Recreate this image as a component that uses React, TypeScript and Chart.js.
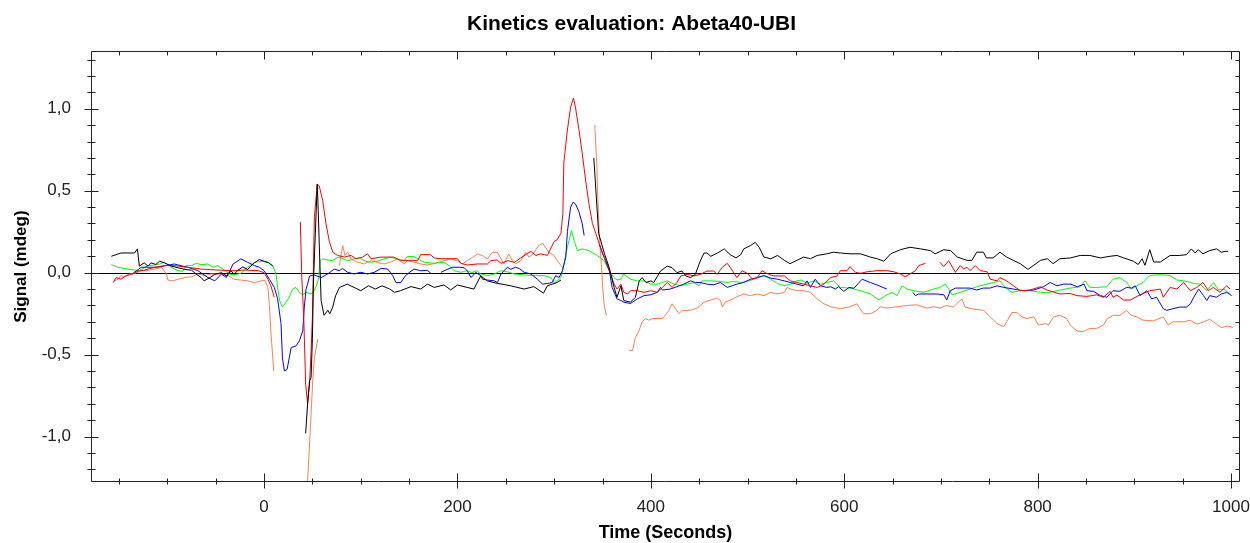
import { useEffect, useRef } from 'react';
import { Chart, registerables } from 'chart.js';

Chart.register(...registerables);

const chartTitle = 'Kinetics evaluation: Abeta40-UBI';
const xAxisTitle = 'Time (Seconds)';
const yAxisTitle = 'Signal (mdeg)';
const xTickValues = [0, 200, 400, 600, 800, 1000];
const yTickValues = [-1, -0.5, 0, 0.5, 1];

// [time (s), signal (mdeg)]; null marks a break in the trace
const blackReadings: [number, number | null][] = [
  [-158, 0.10], [-148, 0.12], [-134, 0.12], [-131, 0.145], [-129, 0.04], [-124, 0.06], [-120, 0.04], [-117, 0.06],
  [-112, 0.05], [-108, 0.07], [-103, 0.06], [-96, 0.04], [-89, 0.03], [-82, 0.02], [-75, 0.015], [-70, -0.01],
  [-65, -0.03], [-62, -0.05], [-56, -0.03], [-51, -0.01], [-44, 0.0], [-39, -0.02], [-34, 0.01], [-31, -0.01],
  [-27, 0.015], [-22, 0.035], [-17, 0.02], [-10, 0.06], [-5, 0.08], [0, 0.07], [5, 0.06], [9, 0.04], [25, null],
  [43, -0.98], [45, -0.80], [47, -0.66], [48.6, -0.64], [50, -0.40], [51, -0.07], [53, 0.24], [55, 0.54],
  [56, 0.38], [57.5, 0.09], [59, -0.17], [62, -0.26], [66, -0.23], [68, -0.25], [71, -0.21], [74, -0.14],
  [78, -0.09], [86, -0.07], [93, -0.09], [100, -0.11], [108, -0.08], [115, -0.1], [122, -0.08], [130, -0.1],
  [135, -0.12], [141, -0.11], [152, -0.085], [162, -0.1], [169, -0.07], [176, -0.09], [186, -0.075], [193, -0.105],
  [200, -0.075], [210, -0.09], [217, -0.1], [224, -0.02], [231, -0.05], [241, -0.065], [255, -0.08], [269, -0.1],
  [279, -0.085], [289, -0.125], [293, -0.08], [303, -0.06], [307, -0.045], [325, null],
  [341, 0.70], [346, 0.24], [352, 0.115], [357, 0.03], [362, -0.09], [365, -0.15], [369, -0.08], [372, -0.17],
  [379, -0.18], [384, -0.15], [388, -0.05], [391, -0.03], [395, -0.06], [400, -0.05], [403, -0.06], [410, 0.01],
  [417, 0.04], [422, 0.03], [427, 0.0], [432, 0.01], [436, -0.02], [441, -0.03], [446, -0.01], [451, 0.07],
  [455, 0.12], [458, 0.12], [462, 0.10], [469, 0.12], [476, 0.145], [482, 0.11], [488, 0.09], [493, 0.11],
  [496, 0.145], [503, 0.165], [508, 0.185], [512, 0.155], [517, 0.095], [524, 0.085], [531, 0.105], [538, 0.075],
  [544, 0.055], [551, 0.075], [558, 0.095], [565, 0.085], [572, 0.105], [582, 0.115], [589, 0.125], [596, 0.12],
  [606, 0.115], [617, 0.115], [627, 0.095], [634, 0.085], [641, 0.07], [648, 0.115], [658, 0.14], [668, 0.155],
  [679, 0.145], [689, 0.135], [694, 0.115], [703, 0.14], [710, 0.135], [717, 0.095], [727, 0.075], [732, 0.075],
  [737, 0.125], [744, 0.125], [747, 0.09], [754, 0.09], [761, 0.125], [768, 0.095], [775, 0.075], [782, 0.055],
  [790, 0.02], [796, 0.045], [803, 0.075], [810, 0.085], [816, 0.055], [823, 0.085], [834, 0.09], [844, 0.105],
  [854, 0.105], [865, 0.09], [875, 0.1], [882, 0.105], [889, 0.09], [899, 0.07], [904, 0.05], [908, 0.085],
  [911, 0.045], [916, 0.14], [920, 0.065], [927, 0.065], [937, 0.105], [947, 0.105], [954, 0.11], [959, 0.145],
  [963, 0.12], [966, 0.14], [971, 0.115], [978, 0.135], [985, 0.145], [990, 0.125], [994, 0.13], [997, 0.13],
];

const redReadings: [number, number | null][] = [
  [-156, -0.06], [-153, -0.03], [-148, -0.04], [-143, -0.02], [-137, -0.01], [-130, 0.01], [-124, 0.015], [-113, 0.033],
  [-103, 0.043], [-93, 0.043], [-79, 0.033], [-65, 0.022], [-48, 0.016], [-31, 0.012], [-20, 0.016], [-6, 0.012],
  [0, 0.0], [4, -0.04], [7, -0.08], [9, -0.12], [10.5, -0.15], [24, null],
  [37.5, 0.31], [39, -0.03], [41, -0.27], [43, -0.68], [45, -0.80], [47, -0.68], [48.6, -0.48], [50, -0.27],
  [52, 0.34], [55, 0.54], [57, 0.53], [60.6, 0.44], [64, 0.30], [67.5, 0.19], [71, 0.125], [76, 0.105],
  [83, 0.095], [90, 0.105], [95, 0.085], [102, 0.095], [107, 0.115], [110.5, 0.085], [121, 0.095], [134, 0.095],
  [141, 0.075], [149, 0.075], [159, 0.075], [162, 0.11], [172, 0.11], [176, 0.09], [183, 0.085], [200, 0.085],
  [203.5, 0.057], [210, 0.047], [221, 0.053], [231, 0.053], [234.5, 0.073], [241, 0.078], [245, 0.057], [252, 0.073],
  [259, 0.063], [265.5, 0.09], [272, 0.115], [276, 0.13], [281, 0.105], [286, 0.115], [293, 0.105], [300, 0.19],
  [303, 0.2], [307, 0.24], [309, 0.36], [310, 0.67], [313.7, 0.87], [317, 1.01], [320, 1.065], [322, 1.01],
  [325.7, 0.87], [329, 0.73], [332.6, 0.56], [336, 0.42], [339.6, 0.30], [343, 0.24], [346.4, 0.18], [350, 0.115],
  [355, 0.053], [358.5, -0.01], [362, -0.07], [365, -0.10], [369, -0.07], [372, -0.12], [376, -0.13], [379, -0.11],
  [383, -0.11], [386, -0.11], [393, -0.12], [400, -0.11], [406.6, -0.12], [412, -0.09], [417, -0.06], [422, -0.09],
  [427, -0.06], [431, -0.02], [437.7, -0.01], [444.5, -0.02], [451.4, -0.01], [458, 0.01], [465, 0.01], [468.5, -0.01],
  [474, 0.033], [479, 0.057], [482, 0.033], [489, -0.03], [494.5, 0.012], [500, -0.005], [505, -0.04], [510, -0.03],
  [515, 0.012], [520, -0.005], [527, -0.02], [538, -0.02], [544.5, -0.05], [551, -0.06], [558, -0.07], [565, -0.08],
  [572, -0.09], [579, -0.07], [586, -0.03], [592.6, -0.02], [596, 0.012], [603, 0.012], [606, 0.037], [611.6, 0.002],
  [617, -0.004], [624, 0.006], [634, 0.012], [644, 0.012], [651, 0.006], [658, -0.008], [663, -0.025], [668, -0.008],
  [673.6, 0.012], [677, 0.043], [684, 0.057], [692, null],
  [699, 0.063], [703, 0.037], [708, 0.073], [715, 0.002], [720, 0.043], [723.5, 0.022], [727, 0.033], [730, 0.012],
  [735.5, 0.043], [740.7, 0.012], [747.6, 0.006], [751, -0.04], [758, -0.05], [761, -0.03], [768, -0.05], [775, -0.08],
  [782, -0.11], [792, -0.106], [803, -0.086], [809.6, -0.106], [823, -0.13], [833.7, -0.127], [840.6, -0.14], [851, -0.145],
  [861, -0.135], [868, -0.15], [875, -0.114], [878, -0.15], [882, -0.137], [889, -0.167], [895.7, -0.167], [906, -0.135],
  [916, -0.11], [927, -0.1], [930, -0.15], [937, -0.09], [944, -0.1], [951, -0.06], [958, -0.11], [964.6, -0.09],
  [971, -0.06], [976.6, -0.11], [981.7, -0.09], [988.6, -0.12], [995.6, -0.08], [999, -0.1],
];

const blueReadings: [number, number | null][] = [
  [-137, -0.01], [-127, 0.033], [-110, 0.033], [-93, 0.053], [-79, 0.033], [-68.5, 0.012], [-58, -0.03], [-51, -0.05],
  [-44, -0.008], [-39, -0.03], [-32, 0.053], [-24, 0.084], [-17, 0.063], [-10, 0.043], [-5, 0.033], [0, 0.012],
  [5.5, -0.04], [10.6, -0.09], [14, -0.16], [17.5, -0.31], [19, -0.52], [21, -0.60], [23.8, -0.59], [26, -0.52],
  [28, -0.457], [33, -0.447], [36.5, -0.416], [40, -0.355], [41.6, -0.21], [43.4, -0.10], [45, -0.07], [47, -0.02],
  [52, -0.014], [59, -0.03], [65.8, -0.008], [72.6, 0.022], [77.8, 0.012], [81, 0.026], [86.5, 0.002], [93, -0.008],
  [100, 0.002], [107, -0.008], [114, 0.002], [121, 0.026], [127.8, 0.022], [133, -0.018], [136.4, -0.06], [141.5, -0.06],
  [146, -0.02], [150, 0.0], [155, 0.022], [162, 0.012], [169, 0.014], [172.5, -0.004], [177, null],
  [183, 0.002], [190, 0.022], [195, 0.033], [202, 0.033], [207, 0.03], [210, 0.012], [214, -0.03], [219, 0.002],
  [224, -0.018], [226, -0.04], [231, -0.045], [238, -0.05], [241.4, -0.06], [245, -0.008], [248, 0.012], [251.8, 0.033],
  [255, 0.02], [260, 0.033], [264, 0.025], [269, 0.002], [276, -0.008], [282.7, -0.04], [288, -0.07], [293, -0.066],
  [298, -0.06], [301.6, -0.018], [305, -0.03], [308.6, 0.012], [312, 0.094], [313.7, 0.25], [317, 0.40], [319.6, 0.43],
  [322, 0.42], [325.7, 0.37], [329, 0.30], [331, 0.227], [339, null],
  [347, 0.17], [353, 0.073], [357, 0.012], [360, -0.09], [365, -0.16], [369, -0.17], [372, -0.18], [379, -0.188],
  [386, -0.16], [393, -0.14], [400, -0.135], [406.6, -0.12], [410, -0.09], [412, -0.106], [420, -0.1], [427, -0.086],
  [434, -0.07], [441, -0.05], [446, -0.06], [451, -0.06], [458, -0.07], [465, -0.074], [472, -0.06], [479, -0.09],
  [484, -0.08], [489, -0.07], [496, -0.06], [503, -0.04], [510, -0.03], [517, -0.018], [524, -0.033], [531, -0.04],
  [538, -0.05], [544.5, -0.06], [551, -0.07], [558, -0.08], [561.6, -0.05], [565, -0.09], [570, -0.04], [575.4, -0.08],
  [582, -0.09], [586, -0.086], [591, -0.1], [594, -0.086], [599.5, -0.114], [605, -0.09], [610, -0.095], [618.5, -0.04],
  [627, -0.06], [636, -0.08], [644, -0.1], [658, null],
  [671, -0.12], [673.6, -0.14], [677, -0.13], [685.6, -0.13], [696, -0.13], [703, -0.135], [706, -0.167], [709.7, -0.11],
  [715, -0.094], [723.5, -0.094], [730, -0.094], [737, -0.106], [744, -0.094], [751, -0.094], [758, -0.08], [765, -0.09],
  [775, -0.1], [785, -0.11], [796, -0.106], [806, -0.086], [813, -0.06], [820, -0.08], [827, -0.07], [834, -0.07],
  [841, -0.086], [848, -0.07], [851, -0.11], [858, -0.114], [865, -0.14], [871.5, -0.15], [878, -0.11], [885, -0.114],
  [892, -0.09], [897, -0.094], [901, -0.08], [906, -0.14], [913, -0.11], [918, -0.16], [923, -0.15], [930, -0.22],
  [933.5, -0.23], [940, -0.22], [947, -0.21], [954, -0.21], [958, -0.19], [961.5, -0.15], [966.6, -0.1], [971.6, -0.14],
  [975, -0.17], [978, -0.14], [985, -0.15], [990, -0.13], [995.6, -0.12], [1000.7, -0.14],
];

const greenReadings: [number, number | null][] = [
  [-158, 0.049], [-151, 0.033], [-141, 0.022], [-134, 0.016], [-129, 0.012], [-120, 0.043], [-113, 0.047], [-108, 0.053],
  [-103, 0.063], [-96, 0.033], [-89, 0.012], [-84, 0.008], [-81, 0.043], [-75, 0.043], [-70, 0.057], [-65, 0.049],
  [-58, 0.053], [-53, 0.033], [-48, 0.043], [-41, 0.016], [-36, -0.008], [-31, -0.014], [-24, -0.004], [-17, 0.033],
  [-10, 0.063], [-3, 0.069], [4, 0.063], [9, 0.043], [12.4, -0.01], [14, -0.09], [16, -0.17], [19, -0.21],
  [22.7, -0.18], [26, -0.15], [29.6, -0.1], [33, -0.09], [36.5, -0.12], [40, -0.135], [43.4, -0.12], [48.6, -0.13],
  [52, -0.11], [54.8, -0.07], [56.5, -0.03], [58, 0.073], [60.6, 0.084], [65.8, 0.078], [71, 0.073], [76, 0.094],
  [79.5, 0.09], [86.5, 0.073], [93, 0.084], [98.5, 0.09], [105, 0.069], [110.5, 0.063], [117, 0.07], [124, 0.084],
  [131, 0.094], [138, 0.084], [145, 0.073], [148, 0.098], [155, 0.098], [159, 0.084], [165.6, 0.063], [176, 0.057],
  [186, 0.063], [191.5, 0.043], [196.6, 0.012], [203.5, 0.002], [210, 0.012], [215, 0.0], [220, 0.012], [224, -0.008],
  [231, -0.018], [238, -0.008], [245, 0.012], [251.8, 0.005], [258.6, -0.008], [269, -0.014], [279, -0.018], [289.6, -0.018],
  [296.5, -0.03], [300, -0.06], [303, -0.05], [307, -0.03], [310, 0.053], [313.7, 0.155], [318, 0.257], [320.6, 0.196],
  [324, 0.135], [329, 0.145], [336, 0.135], [344.7, 0.104], [351.6, 0.073], [357, 0.012], [362, -0.03], [365, -0.045],
  [369, -0.04], [372, -0.008], [379, -0.04], [386, -0.05], [393, -0.05], [400, -0.07], [406.6, -0.07], [412, -0.06],
  [417, -0.05], [424, -0.07], [431, -0.08], [437.7, -0.07], [444.5, -0.06], [449.7, -0.08], [453, -0.05], [461.8, -0.05],
  [472, -0.053], [479, -0.06], [485.8, -0.053], [492.8, -0.06], [499.7, -0.053], [506.5, -0.04], [511.7, -0.03], [517, -0.018],
  [524, -0.04], [531, -0.066], [538, -0.08], [544.5, -0.07], [551, -0.05], [556, -0.045], [561.6, -0.066], [568.5, -0.05],
  [575.4, -0.07], [582, -0.06], [589, -0.05], [596, -0.09], [606, -0.094], [617, -0.11], [627, -0.13], [636, -0.167],
  [642.6, -0.14], [649.5, -0.12], [654.6, -0.14], [660, -0.08], [665, -0.1], [672, -0.11], [682, -0.12], [692.5, -0.1],
  [699.4, -0.09], [704.5, -0.07], [708, -0.1], [711.5, -0.135], [720, -0.12], [730, -0.1], [737, -0.086], [747.6, -0.07],
  [754.5, -0.06], [761, -0.05], [766.5, -0.09], [773.4, -0.12], [782, -0.11], [792, -0.11], [803, -0.12], [813, -0.12],
  [823, -0.106], [834, -0.094], [844, -0.086], [849, -0.05], [854, -0.09], [861, -0.09], [871.5, -0.086], [878, -0.04],
  [885, -0.03], [892, -0.06], [897, -0.1], [902.6, -0.08], [909, -0.06], [916, -0.018], [926.6, -0.012], [937, -0.018],
  [944, -0.045], [954.5, -0.053], [961.5, -0.066], [968, -0.07], [975, -0.11], [982, -0.06], [987, -0.106], [992.6, -0.1],
  [999, -0.13],
];

const orangeReadings: [number, number | null][] = [
  [-155, -0.05], [-151, -0.04], [-148, -0.018], [-144, -0.025], [-139, -0.008], [-134, -0.005], [-127, 0.012], [-120, 0.015],
  [-113, 0.022], [-106, 0.033], [-101, -0.008], [-99.5, -0.045], [-94, -0.05], [-89, -0.04], [-82, -0.03], [-75, -0.025],
  [-68.5, -0.008], [-61.7, -0.018], [-55, -0.008], [-44, -0.008], [-37.5, -0.018], [-31, -0.04], [-24, -0.045], [-17, -0.05],
  [-10, -0.06], [-3, -0.05], [0.5, -0.045], [4, -0.09], [5.5, -0.2], [7.2, -0.375], [9, -0.52], [10, -0.60], [27, null],
  [44, -1.40], [45, -1.27], [46.8, -1.07], [48.6, -0.865], [50.3, -0.66], [52, -0.52], [55.5, -0.406], [66, null],
  [77.8, 0.043], [81.3, 0.165], [83.7, 0.104], [86.5, 0.124], [90, 0.084], [96.8, 0.063], [103.6, 0.053], [110.5, 0.073],
  [117, 0.063], [124, 0.053], [131, 0.065], [138, 0.084], [145, 0.053], [148, 0.073], [155, 0.065], [162, 0.053],
  [169, 0.047], [176, 0.055], [186, 0.073], [193, 0.084], [200, 0.073], [205, 0.053], [210, 0.073], [215.6, 0.094],
  [220.8, 0.114], [226, 0.104], [231, 0.084], [236, 0.124], [241.4, 0.124], [245, 0.084], [248, 0.053], [253, 0.114],
  [257, 0.073], [260, 0.053], [265.5, 0.073], [270.7, 0.124], [274, 0.094], [279, 0.12], [284, 0.165], [288, 0.18],
  [291, 0.155], [294.7, 0.124], [300, 0.104], [303.4, 0.073], [307, 0.043], [309, 0.03], [325, null],
  [342, 0.90], [344, 0.666], [345.5, 0.40], [347, 0.196], [349, 0.033], [350.5, -0.11], [352, -0.21], [354, -0.26], [365, null],
  [377.4, -0.473], [381, -0.477], [384, -0.396], [387.7, -0.355], [391, -0.30], [394.6, -0.28], [398, -0.29], [401.5, -0.28],
  [406.6, -0.28], [412, -0.28], [415, -0.26], [418.7, -0.23], [422, -0.19], [425.6, -0.22], [429, -0.25], [432.5, -0.23],
  [441, -0.23], [448, -0.216], [455, -0.18], [462, -0.167], [468.7, -0.155], [472, -0.17], [474, -0.21], [477, -0.18],
  [482.4, -0.167], [489, -0.147], [496, -0.13], [503, -0.14], [510, -0.13], [517, -0.14], [524, -0.12], [531, -0.13],
  [538, -0.12], [541, -0.09], [544.5, -0.1], [551, -0.11], [558, -0.11], [565, -0.12], [572, -0.16], [579, -0.19],
  [586, -0.208], [596, -0.22], [606, -0.208], [613, -0.19], [620, -0.25], [627, -0.25], [634, -0.23], [637, -0.208],
  [644, -0.216], [654.6, -0.208], [665, -0.2], [675, -0.196], [685.6, -0.216], [692.5, -0.208], [699, -0.216], [706, -0.2],
  [713, -0.21], [718, -0.18], [721.8, -0.16], [725, -0.21], [733.8, -0.222], [744, -0.23], [751, -0.27], [758, -0.31],
  [765, -0.33], [768, -0.30], [773.4, -0.243], [778.6, -0.243], [783.8, -0.27], [789, -0.28], [796, -0.27], [801, -0.32],
  [808, -0.31], [811, -0.32], [816.5, -0.27], [823, -0.26], [830, -0.28], [833.7, -0.32], [840.6, -0.355], [847.4, -0.36],
  [854, -0.34], [861, -0.34], [868, -0.32], [871.5, -0.284], [878.4, -0.26], [885, -0.26], [892, -0.23], [897, -0.26],
  [902.6, -0.27], [909, -0.29], [919.7, -0.294], [930, -0.27], [935, -0.32], [940, -0.30], [951, -0.30], [957.6, -0.29],
  [964.6, -0.314], [971.6, -0.30], [978, -0.284], [985, -0.314], [990, -0.335], [996.6, -0.325], [1002, -0.335],
];

const seriesColors = {
  black: '#000000',
  red: '#ff0000',
  blue: '#0000ff',
  green: '#00ff00',
  orange: '#ff7f50',
};

const toPoints = (rows: [number, number | null][]) => rows.map(([t, v]) => ({ x: t, y: v }));

const frameTicksPlugin = {
  id: 'frameTicks',
  beforeDatasetsDraw(chart: any) {
    const { ctx, chartArea: a, scales } = chart;
    const y0 = Math.round(scales.y.getPixelForValue(0)) + 0.5;
    ctx.save();
    ctx.strokeStyle = '#000';
    ctx.lineWidth = 1;
    ctx.beginPath();
    ctx.moveTo(a.left, y0);
    ctx.lineTo(a.right, y0);
    ctx.stroke();
    ctx.restore();
  },
  afterDraw(chart: any) {
    const { ctx, chartArea: a, scales } = chart;
    const L = Math.round(a.left) + 0.5;
    const R = Math.round(a.right) - 0.5;
    const T = Math.round(a.top) + 0.5;
    const B = Math.round(a.bottom) - 0.5;
    ctx.save();
    ctx.strokeStyle = '#222';
    ctx.lineWidth = 1;
    ctx.beginPath();
    ctx.rect(L, T, R - L, B - T);
    for (let i = -3; i <= 20; i++) {
      const px = Math.round(scales.x.getPixelForValue(i * 50)) + 0.5;
      const major = i % 4 === 0;
      ctx.moveTo(px, B - (major ? 8 : 3));
      ctx.lineTo(px, B + (major ? 7 : 3));
      ctx.moveTo(px, T);
      ctx.lineTo(px, T + (major ? 8 : 4));
    }
    for (let i = -12; i <= 13; i++) {
      const py = Math.round(scales.y.getPixelForValue(i / 10)) + 0.5;
      const major = i % 5 === 0;
      ctx.moveTo(L - (major ? 7 : 4), py);
      ctx.lineTo(L + (major ? 7 : 4), py);
      ctx.moveTo(R, py);
      ctx.lineTo(R - (major ? 7 : 4), py);
    }
    ctx.stroke();
    ctx.restore();
  },
};

export default function App() {
  const canvasRef = useRef<HTMLCanvasElement | null>(null);

  useEffect(() => {
    if (!canvasRef.current) return;
    Chart.defaults.font.family = '"Liberation Sans", Arial, sans-serif';
    const mk = (label: string, rows: [number, number | null][], color: string) => ({
      label,
      data: toPoints(rows),
      borderColor: color,
      backgroundColor: color,
      borderWidth: 1,
      pointRadius: 0,
      pointHoverRadius: 0,
      tension: 0,
      spanGaps: false,
      fill: false,
    });
    const chart = new Chart(canvasRef.current, {
      type: 'line',
      data: {
        datasets: [
          mk('Black', blackReadings, seriesColors.black),
          mk('Red', redReadings, seriesColors.red),
          mk('Blue', blueReadings, seriesColors.blue),
          mk('Green', greenReadings, seriesColors.green),
          mk('Orange', orangeReadings, seriesColors.orange),
        ],
      },
      options: {
        animation: false,
        responsive: true,
        maintainAspectRatio: false,
        devicePixelRatio: 1,
        events: [],
        layout: { padding: { left: 13, right: 0, top: 0, bottom: 0 } },
        plugins: {
          legend: { display: false },
          tooltip: { enabled: false },
          title: {
            display: true,
            text: chartTitle,
            color: '#000',
            font: { size: 21, weight: 'bold' },
            padding: { top: 12, bottom: 14 },
          },
        },
        scales: {
          x: {
            type: 'linear',
            position: 'bottom',
            min: -179,
            max: 1009.3,
            afterBuildTicks: (s: any) => {
              s.ticks = xTickValues.map((v) => ({ value: v }));
            },
            afterFit: (s: any) => {
              s.height = 61;
              s.paddingLeft = 0;
              s.paddingRight = 0;
            },
            grid: { display: false, drawTicks: false, tickLength: 0 },
            border: { display: false },
            ticks: {
              color: '#222',
              font: { size: 17 },
              padding: 15,
              maxRotation: 0,
              autoSkip: false,
              callback: (v: any) => String(v),
            },
            title: {
              display: true,
              text: xAxisTitle,
              color: '#000',
              font: { size: 18, weight: 'bold' },
              padding: { top: 0, bottom: -1 },
            },
          },
          y: {
            type: 'linear',
            position: 'left',
            min: -1.277,
            max: 1.351,
            afterBuildTicks: (s: any) => {
              s.ticks = yTickValues.map((v) => ({ value: v }));
            },
            afterFit: (s: any) => {
              s.width = 78;
              s.paddingTop = 0;
              s.paddingBottom = 0;
            },
            grid: { display: false, drawTicks: false, tickLength: 0 },
            border: { display: false },
            ticks: {
              color: '#222',
              font: { size: 17 },
              padding: 20,
              callback: (v: any) => Number(v).toFixed(1).replace('.', ','),
            },
            title: {
              display: true,
              text: yAxisTitle,
              color: '#000',
              font: { size: 17, weight: 'bold' },
              padding: { top: -2, bottom: 0 },
            },
          },
          yRight: {
            type: 'linear',
            position: 'right',
            display: true,
            afterFit: (s: any) => {
              s.width = 10;
              s.paddingTop = 0;
              s.paddingBottom = 0;
            },
            grid: { display: false, drawTicks: false },
            border: { display: false },
            ticks: { display: false },
          },
        },
      } as any,
      plugins: [frameTicksPlugin],
    });
    return () => chart.destroy();
  }, []);

  return (
    <div style={{ position: 'fixed', left: 0, top: 0, width: '1250px', height: '543px', background: '#fff' }}>
      <canvas ref={canvasRef} style={{ display: 'block' }} />
    </div>
  );
}
